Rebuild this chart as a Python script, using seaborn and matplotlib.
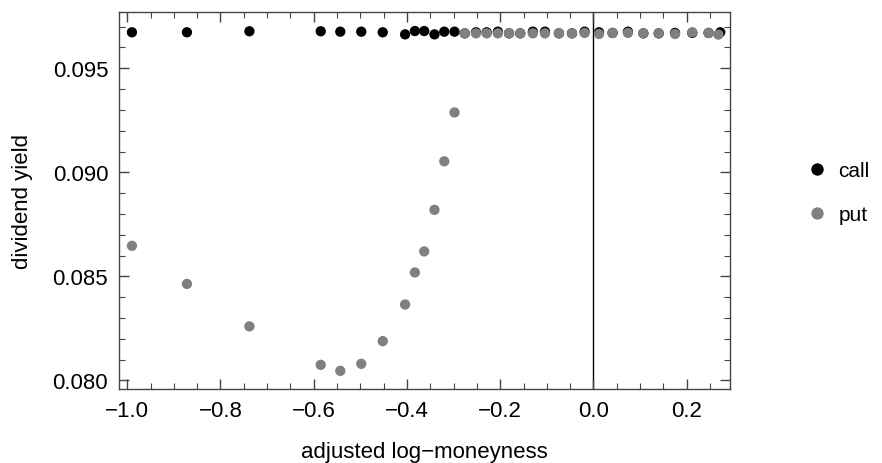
import pandas as pd
import matplotlib
matplotlib.use("Agg")
import matplotlib.pyplot as plt
from matplotlib.ticker import MultipleLocator, FuncFormatter
import seaborn as sns

# adjusted log-moneyness and implied dividend yield
call_x = [-0.990, -0.872, -0.738, -0.585, -0.543, -0.498, -0.452, -0.404,
          -0.383, -0.363, -0.341, -0.320, -0.298, -0.276, -0.252, -0.229,
          -0.205, -0.181, -0.157, -0.130, -0.104, -0.074, -0.046, -0.019,
          0.012, 0.041, 0.074, 0.107, 0.140, 0.175, 0.212, 0.247, 0.272]
call_y = [0.09673, 0.09673, 0.09678, 0.09678, 0.09676, 0.09676, 0.09673, 0.09663,
          0.09679, 0.09679, 0.09663, 0.09676, 0.09676, 0.09668, 0.09673, 0.09673,
          0.09676, 0.09668, 0.09668, 0.09676, 0.09676, 0.09668, 0.09668, 0.09676,
          0.09673, 0.09670, 0.09676, 0.09668, 0.09668, 0.09670, 0.09670, 0.09670, 0.09673]

put_x = [-0.990, -0.872, -0.738, -0.585, -0.543, -0.498, -0.452, -0.404,
         -0.383, -0.363, -0.341, -0.320, -0.298, -0.276, -0.252, -0.229,
         -0.205, -0.181, -0.157, -0.130, -0.104, -0.074, -0.046, -0.019,
         0.012, 0.041, 0.074, 0.107, 0.140, 0.175, 0.212, 0.247, 0.268]
put_y = [0.08647, 0.08464, 0.08260, 0.08075, 0.08046, 0.08080, 0.08189, 0.08365,
         0.08519, 0.08620, 0.08820, 0.09053, 0.09288, 0.09668, 0.09668, 0.09668,
         0.09668, 0.09668, 0.09668, 0.09668, 0.09668, 0.09668, 0.09668, 0.09670,
         0.09665, 0.09670, 0.09670, 0.09668, 0.09668, 0.09665, 0.09673, 0.09670, 0.09662]

df = pd.concat([
    pd.DataFrame({"moneyness": call_x, "dividend": call_y, "type": "call"}),
    pd.DataFrame({"moneyness": put_x, "dividend": put_y, "type": "put"}),
], ignore_index=True)

sns.set_style("ticks")
plt.rcParams["font.family"] = ["Liberation Sans", "DejaVu Sans"]
plt.rcParams["text.color"] = "black"
plt.rcParams["axes.labelcolor"] = "black"

fig = plt.figure(figsize=(8.82, 4.64), dpi=100)
ax = fig.add_axes([0.1353, 0.1595, 0.6924, 0.8118])

sns.scatterplot(data=df, x="moneyness", y="dividend", hue="type",
                palette={"call": "black", "put": "#808080"},
                s=55, linewidth=0, ax=ax, legend=True)

ax.axvline(0, color="black", lw=1, zorder=0)

ax.set_xlim(-1.017, 0.293)
ax.set_ylim(0.07959, 0.09769)
ax.xaxis.set_major_locator(MultipleLocator(0.2))
ax.xaxis.set_minor_locator(MultipleLocator(0.05))
ax.yaxis.set_major_locator(MultipleLocator(0.005))
ax.yaxis.set_minor_locator(MultipleLocator(0.001))
ax.xaxis.set_major_formatter(FuncFormatter(lambda v, p: f"{v:.1f}".replace("-", "\u2212")))
ax.yaxis.set_major_formatter(FuncFormatter(lambda v, p: f"{v:.3f}"))
ax.tick_params(which="both", direction="in", top=True, right=True,
               color="#444444", labelsize=16, labelcolor="black")
ax.tick_params(which="major", length=7.5, width=1)
ax.tick_params(which="minor", length=4, width=0.8)
ax.tick_params(axis="y", which="major", pad=8)
ax.tick_params(axis="x", which="major", pad=8)
for sp in ax.spines.values():
    sp.set_color("#444444")
    sp.set_linewidth(1)

ax.set_xlabel("adjusted log\u2212moneyness", fontsize=16, labelpad=14, color="black")
ax.set_ylabel("dividend yield", fontsize=16, labelpad=14, color="black")

leg = ax.legend(loc="upper left", bbox_to_anchor=(0.915, 0.651),
                bbox_transform=fig.transFigure, frameon=False, fontsize=15,
                handlelength=1, handletextpad=0.5, labelspacing=1.2,
                borderpad=0, borderaxespad=0, markerscale=1.2)
for t in leg.get_texts():
    t.set_color("black")

fig.savefig("out.png", dpi=100)
